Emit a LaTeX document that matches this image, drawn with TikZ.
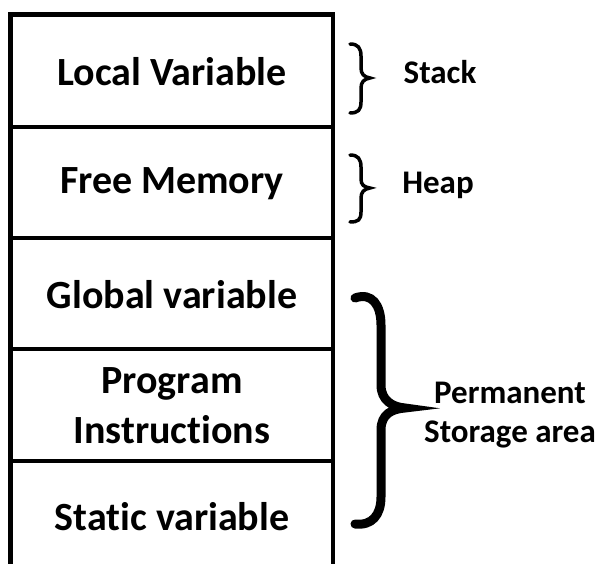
\documentclass[tikz,border=0pt]{standalone}
\usepackage{fontspec}
\setmainfont[Ligatures=NoCommon]{Carlito}
\begin{document}
\begin{tikzpicture}[x=1pt,y=-1pt,
  frame/.style={line width=4.5pt},
  celltext/.style={font=\fontsize{40}{50}\selectfont\bfseries, align=center, inner sep=0pt},
  sidetext/.style={font=\fontsize{33}{39}\selectfont\bfseries, align=center, inner sep=0pt},
  thinbrace/.style={line width=3.5pt, line cap=round},
  thickbrace/.style={line width=9pt, line cap=round}]
\useasboundingbox (0,0) rectangle (603,564);
% frame
\coordinate (tl) at (10.5,14.5);
\coordinate (tr) at (333,14.5);
\coordinate (bl) at (10.5,570);
\coordinate (br) at (333,570);
\draw[frame] (bl) -- (tl) -- (tr) -- (br);
\foreach \y/\n in {127/a,238/b,349/c,461/d}{
  \coordinate (l\n) at (10.5,\y);
  \coordinate (r\n) at (333,\y);
  \draw[frame] (l\n) -- (r\n);
}
% cell labels
\node[celltext] (local) at (172,72) {Local Variable};
\node[celltext] (free) at (172,184) {Free Memory};
\node[celltext] (global) at (172,295) {Global variable};
\node[celltext] (prog) at (172,406) {Program\\Instructions};
\node[celltext] (static) at (172,517) {Static variable};
% side labels
\node[sidetext] (stack) at (440,72) {Stack};
\node[sidetext] (heap) at (438,185) {Heap};
\node[sidetext] (perm) at (510,415) {Permanent\\Storage area};
% braces
\draw[thinbrace] (350,44) .. controls (358,44) and (361,48) .. (361,56) -- (361,68)
  .. controls (361,74) and (364,77) .. (370,78) .. controls (364,79) and (361,82) .. (361,88)
  -- (361,102) .. controls (361,110) and (358,113) .. (350,113);
\draw[thinbrace] (350,155) .. controls (358,155) and (361,159) .. (361,167) -- (361,179)
  .. controls (361,185) and (364,187) .. (370,188) .. controls (364,189) and (361,192) .. (361,198)
  -- (361,212) .. controls (361,220) and (358,222) .. (350,222);
\draw[thickbrace] (355,298) .. controls (372,292) and (381,305) .. (381,325) -- (381,385)
  .. controls (381,400) and (392,407) .. (405,408) .. controls (392,409) and (381,414) .. (381,430)
  -- (381,497) .. controls (381,515) and (372,526) .. (355,524);
\end{tikzpicture}
\end{document}
